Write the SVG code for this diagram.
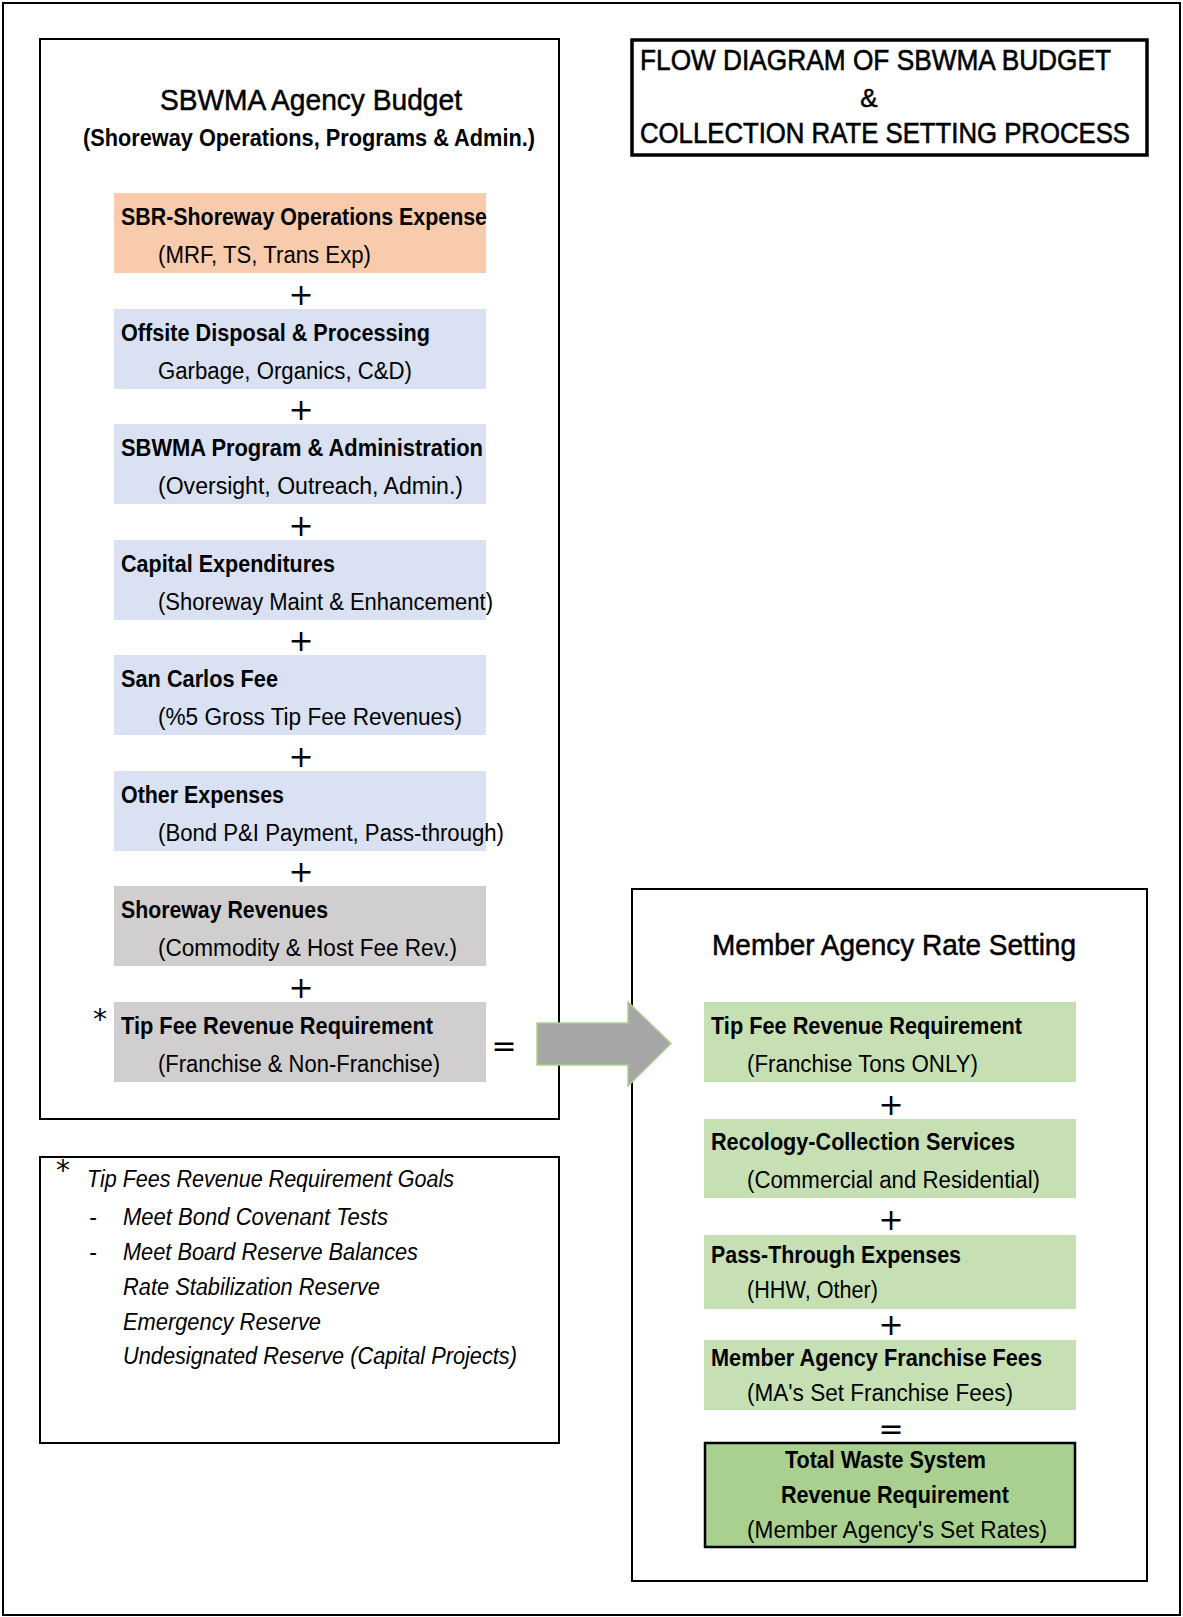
<svg xmlns="http://www.w3.org/2000/svg" width="1183" height="1617" viewBox="0 0 1183 1617">
<style>
text{font-family:"Liberation Sans Narrow","Arial Narrow","Liberation Sans",Arial,sans-serif;fill:#000}
.t{font-size:23px;font-weight:bold}
.s{font-size:23px}
.h{font-size:29px;stroke:#000;stroke-width:0.5}
.n{font-size:23px;font-style:italic}
.op{font-family:"DejaVu Sans",sans-serif;font-size:30px;text-anchor:middle}
.frame{fill:#fff;stroke:#000;stroke-width:2}
.or{fill:#F8CBAD}
.bl{fill:#D9E1F2}
.gr{fill:#D0CECE}
.gn{fill:#C6E0B4}
</style>
<rect x="3" y="3" width="1177" height="1612" fill="#fff" stroke="#000" stroke-width="2"/>

<g id="budget">
<rect class="frame" x="40" y="39" width="519" height="1080"/>
<text class="h" x="160" y="110" textLength="302" lengthAdjust="spacingAndGlyphs">SBWMA Agency Budget</text>
<text class="t" x="83" y="146" textLength="452" lengthAdjust="spacingAndGlyphs">(Shoreway Operations, Programs &amp; Admin.)</text>
</g>

<g id="title">
<rect x="632" y="40" width="515" height="115" fill="#fff" stroke="#000" stroke-width="3.5"/>
<text x="640" y="70" style="font-size:30px;stroke:#000;stroke-width:0.6" textLength="471" lengthAdjust="spacingAndGlyphs">FLOW DIAGRAM OF SBWMA BUDGET</text>
<text x="869" y="107" style="font-size:26px;stroke:#000;stroke-width:0.5" text-anchor="middle">&amp;</text>
<text x="640" y="143" style="font-size:29px;stroke:#000;stroke-width:0.6" textLength="490" lengthAdjust="spacingAndGlyphs">COLLECTION RATE SETTING PROCESS</text>
</g>

<g id="sbr-ops">
<rect class="or" x="114" y="193" width="372" height="80"/>
<text class="t" x="121" y="225" textLength="366" lengthAdjust="spacingAndGlyphs">SBR-Shoreway Operations Expense</text>
<text class="s" x="158" y="263" textLength="213" lengthAdjust="spacingAndGlyphs">(MRF, TS, Trans Exp)</text>
</g>
<g id="offsite">
<rect class="bl" x="114" y="309" width="372" height="80"/>
<text class="t" x="121" y="341" textLength="309" lengthAdjust="spacingAndGlyphs">Offsite Disposal &amp; Processing</text>
<text class="s" x="158" y="379" textLength="254" lengthAdjust="spacingAndGlyphs">Garbage, Organics, C&amp;D)</text>
</g>
<g id="program">
<rect class="bl" x="114" y="424" width="372" height="80"/>
<text class="t" x="121" y="456" textLength="362" lengthAdjust="spacingAndGlyphs">SBWMA Program &amp; Administration</text>
<text class="s" x="158" y="494" textLength="305" lengthAdjust="spacingAndGlyphs">(Oversight, Outreach,  Admin.)</text>
</g>
<g id="capital">
<rect class="bl" x="114" y="540" width="372" height="80"/>
<text class="t" x="121" y="572" textLength="214" lengthAdjust="spacingAndGlyphs">Capital Expenditures</text>
<text class="s" x="158" y="610" textLength="335" lengthAdjust="spacingAndGlyphs">(Shoreway Maint &amp; Enhancement)</text>
</g>
<g id="sancarlos">
<rect class="bl" x="114" y="655" width="372" height="80"/>
<text class="t" x="121" y="687" textLength="157" lengthAdjust="spacingAndGlyphs">San Carlos Fee</text>
<text class="s" x="158" y="725" textLength="304" lengthAdjust="spacingAndGlyphs">(%5 Gross Tip Fee Revenues)</text>
</g>
<g id="other">
<rect class="bl" x="114" y="771" width="372" height="80"/>
<text class="t" x="121" y="803" textLength="163" lengthAdjust="spacingAndGlyphs">Other Expenses</text>
<text class="s" x="158" y="841" textLength="346" lengthAdjust="spacingAndGlyphs">(Bond P&amp;I Payment, Pass-through)</text>
</g>
<g id="revenues">
<rect class="gr" x="114" y="886" width="372" height="80"/>
<text class="t" x="121" y="918" textLength="207" lengthAdjust="spacingAndGlyphs">Shoreway Revenues</text>
<text class="s" x="158" y="956" textLength="299" lengthAdjust="spacingAndGlyphs">(Commodity &amp; Host Fee Rev.)</text>
</g>
<g id="tipfee">
<rect class="gr" x="114" y="1002" width="372" height="80"/>
<text class="t" x="121" y="1034" textLength="312" lengthAdjust="spacingAndGlyphs">Tip Fee Revenue Requirement</text>
<text class="s" x="158" y="1072" textLength="282" lengthAdjust="spacingAndGlyphs">(Franchise &amp; Non-Franchise)</text>
<text x="100" y="1029" style="font-family:'DejaVu Sans',sans-serif;font-size:28px" text-anchor="middle">*</text>
</g>

<g id="notes">
<rect class="frame" x="40" y="1157" width="519" height="286"/>
<text x="63" y="1180" style="font-family:'DejaVu Sans',sans-serif;font-size:28px" text-anchor="middle">*</text>
<text class="n" x="87" y="1187" textLength="367" lengthAdjust="spacingAndGlyphs">Tip Fees Revenue Requirement Goals</text>
<text class="n" x="89" y="1225">-</text>
<text class="n" x="123" y="1225" textLength="265" lengthAdjust="spacingAndGlyphs">Meet Bond Covenant Tests</text>
<text class="n" x="89" y="1260">-</text>
<text class="n" x="123" y="1260" textLength="295" lengthAdjust="spacingAndGlyphs">Meet Board Reserve Balances</text>
<text class="n" x="123" y="1295" textLength="257" lengthAdjust="spacingAndGlyphs">Rate Stabilization Reserve</text>
<text class="n" x="123" y="1330" textLength="198" lengthAdjust="spacingAndGlyphs">Emergency Reserve</text>
<text class="n" x="123" y="1364" textLength="394" lengthAdjust="spacingAndGlyphs">Undesignated Reserve (Capital Projects)</text>
</g>

<g id="rate-setting">
<rect class="frame" x="632" y="889" width="515" height="692"/>
<text class="h" x="712" y="955" textLength="364" lengthAdjust="spacingAndGlyphs">Member Agency Rate Setting</text>
</g>

<g id="connectors">
<polygon points="537,1023 628,1023 628,1002 671,1043.5 628,1086 628,1065 537,1065" fill="#A6A6A6" stroke="#A9D18E" stroke-width="1.5"/>
</g>

<g id="ma-tipfee">
<rect class="gn" x="704" y="1002" width="372" height="80"/>
<text class="t" x="711" y="1034" textLength="311" lengthAdjust="spacingAndGlyphs">Tip Fee Revenue Requirement</text>
<text class="s" x="747" y="1072" textLength="231" lengthAdjust="spacingAndGlyphs">(Franchise Tons ONLY)</text>
</g>
<g id="recology">
<rect class="gn" x="704" y="1119" width="372" height="79"/>
<text class="t" x="711" y="1150" textLength="304" lengthAdjust="spacingAndGlyphs">Recology-Collection Services</text>
<text class="s" x="747" y="1188" textLength="293" lengthAdjust="spacingAndGlyphs">(Commercial and Residential)</text>
</g>
<g id="passthrough">
<rect class="gn" x="704" y="1235" width="372" height="74"/>
<text class="t" x="711" y="1263" textLength="250" lengthAdjust="spacingAndGlyphs">Pass-Through Expenses</text>
<text class="s" x="747" y="1298" textLength="131" lengthAdjust="spacingAndGlyphs">(HHW, Other)</text>
</g>
<g id="franchise">
<rect class="gn" x="704" y="1340" width="372" height="70"/>
<text class="t" x="711" y="1366" textLength="331" lengthAdjust="spacingAndGlyphs">Member Agency Franchise Fees</text>
<text class="s" x="747" y="1401" textLength="266" lengthAdjust="spacingAndGlyphs">(MA's Set Franchise Fees)</text>
</g>
<g id="total">
<rect x="705" y="1443" width="370" height="104" fill="#A9D08E" stroke="#000" stroke-width="2.5"/>
<text class="t" x="785" y="1468" textLength="201" lengthAdjust="spacingAndGlyphs">Total Waste System</text>
<text class="t" x="781" y="1503" textLength="228" lengthAdjust="spacingAndGlyphs">Revenue Requirement</text>
<text class="s" x="747" y="1538" textLength="300" lengthAdjust="spacingAndGlyphs">(Member Agency's Set Rates)</text>
</g>

<g id="operators">
<text class="op" x="301" y="305">+</text>
<text class="op" x="301" y="420">+</text>
<text class="op" x="301" y="536">+</text>
<text class="op" x="301" y="651">+</text>
<text class="op" x="301" y="767">+</text>
<text class="op" x="301" y="882">+</text>
<text class="op" x="301" y="998">+</text>
<text class="op" x="504" y="1056">=</text>
<text class="op" x="891" y="1115">+</text>
<text class="op" x="891" y="1230">+</text>
<text class="op" x="891" y="1335">+</text>
<text class="op" x="891" y="1439">=</text>
</g>
</svg>
